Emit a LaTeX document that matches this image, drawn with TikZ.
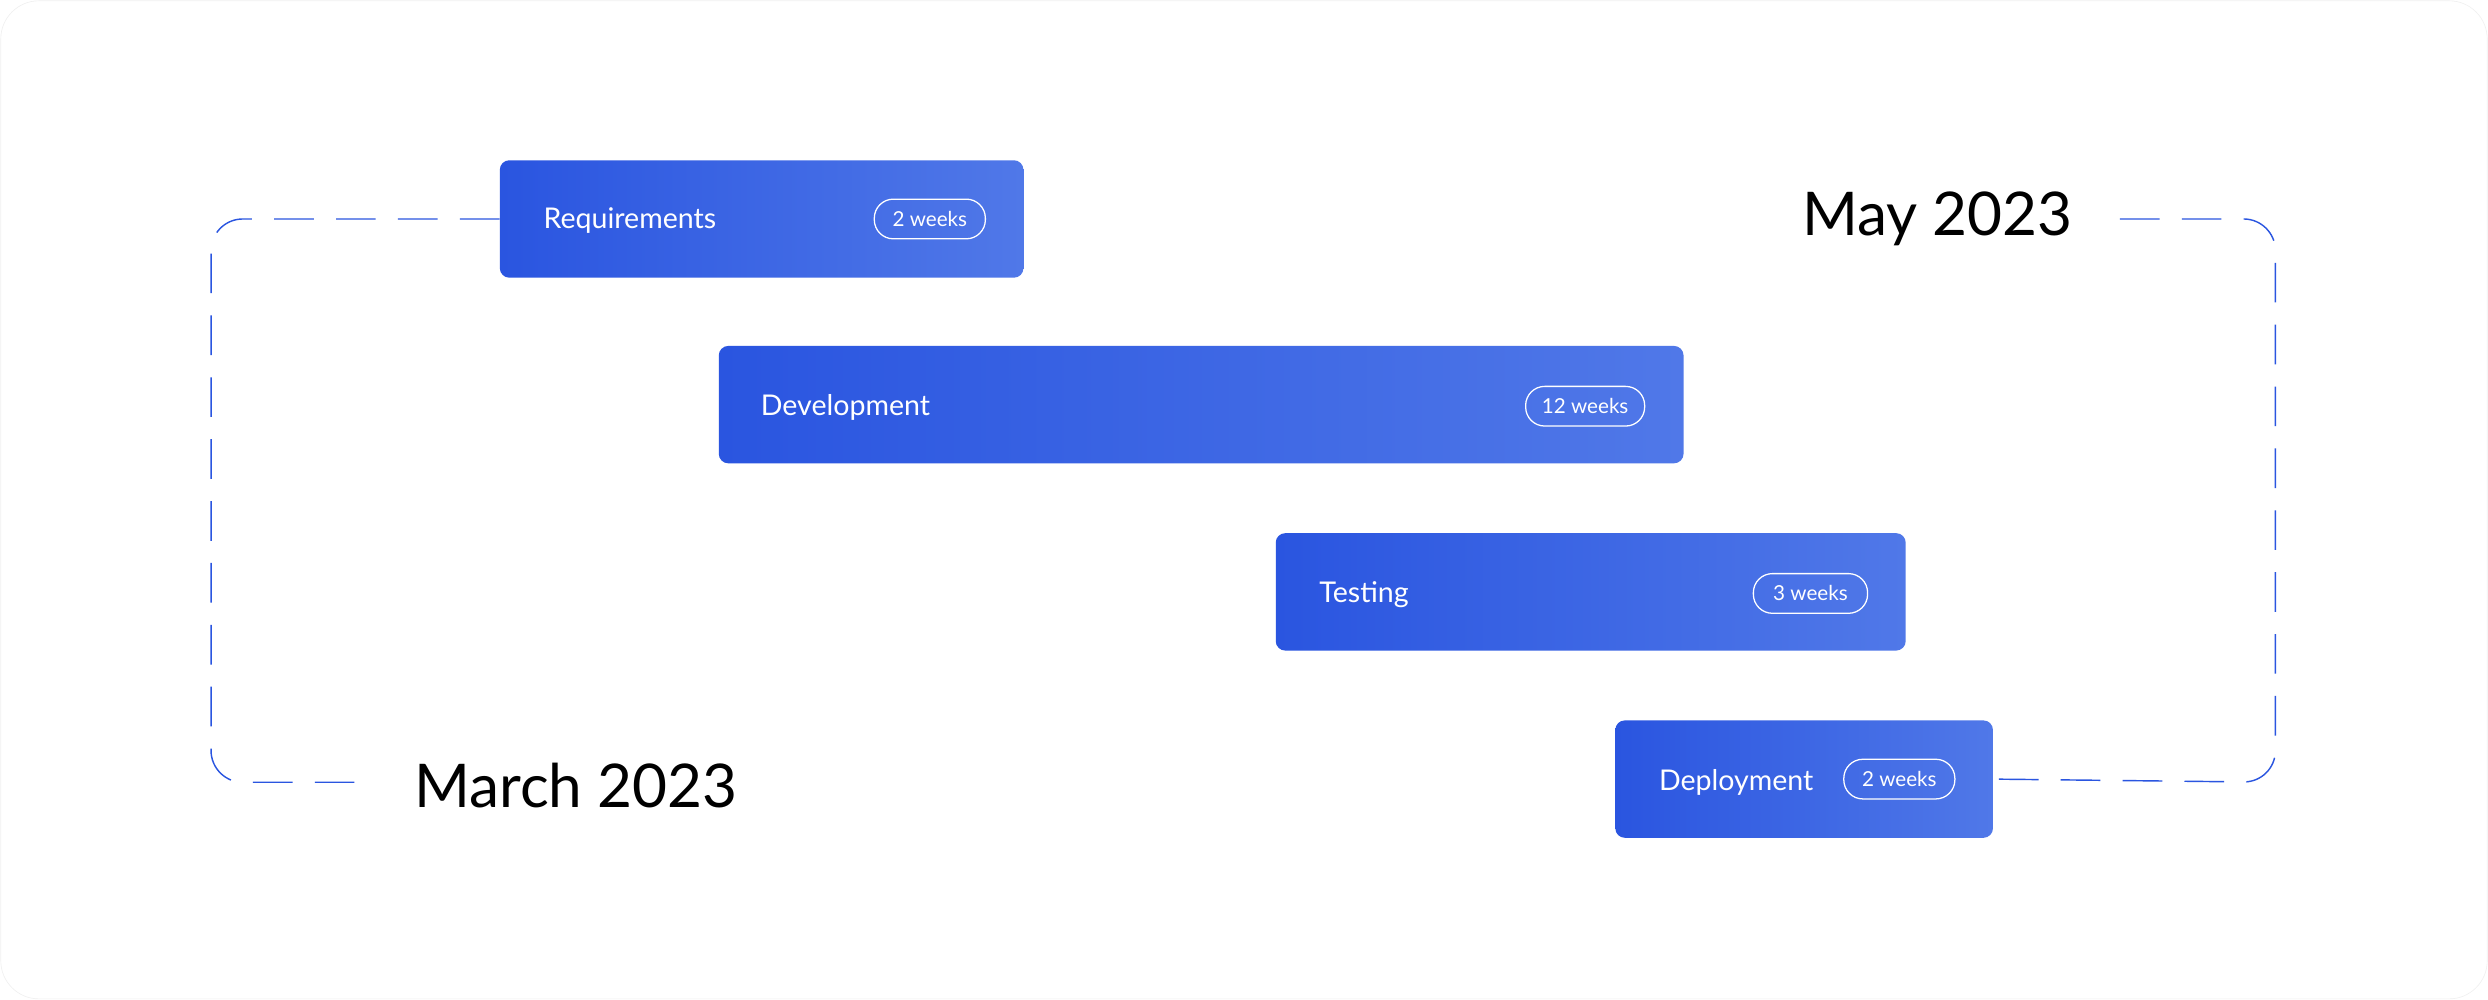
\documentclass[tikz,border=0pt]{standalone}
\usepackage{fontspec}
\setmainfont{Lato}
\begin{document}
\begin{tikzpicture}[x=1pt,y=-1pt,
  bar/.style={rounded corners=6pt,left color=blue1,right color=blue2,minimum height=74pt,inner sep=0pt},
  pill/.style={draw=white,line width=0.8pt,rounded corners=12pt,minimum height=25pt,inner sep=0pt,text=white,font=\fontsize{13}{15}\selectfont},
  lbl/.style={text=white,font=\fontsize{18}{20}\selectfont,anchor=west},
  month/.style={font=\fontsize{38}{42}\selectfont,text=black},
  dashline/.style={draw=blue1,line width=0.9pt,dash pattern=on 25pt off 14pt,rounded corners=20pt}]
\definecolor{blue1}{HTML}{2A55E0}
\definecolor{blue2}{HTML}{5078E8}
\useasboundingbox (0,0) rectangle (1568,630);
\draw[draw=black!6,fill=white,rounded corners=24pt] (0.5,0.5) rectangle (1567.5,629.5);
\node[bar,minimum width=330pt] (req) at (480,138) {};
\node[bar,minimum width=608pt] (dev) at (757,255) {};
\node[bar,minimum width=397pt] (tst) at (1002.5,373) {};
\node[bar,minimum width=238pt] (dep) at (1137,491) {};
\node[lbl] (reqt) at (339,139) {Requirements};
\node[lbl] (devt) at (476,257) {Development};
\node[lbl] (tstt) at (828,375) {Testing};
\node[lbl] (dept) at (1042,493) {Deployment};
\node[pill,minimum width=70pt] (p1) at (586,138) {2 weeks};
\node[pill,minimum width=75pt] (p2) at (999,256) {12 weeks};
\node[pill,minimum width=72pt] (p3) at (1141,374) {3 weeks};
\node[pill,minimum width=70pt] (p4) at (1197,491) {2 weeks};
\node[month] (may) at (1221,138) {May 2023};
\node[month] (mar) at (363,495) {March 2023};
\coordinate (ml) at (232,493);
\coordinate (mr) at (1336,138);
\draw[dashline] (req.west) -- (133,138) -- (133,493) -- (ml);
\draw[dashline] (mr) -- (1434,138) -- (1434,493) -- (dep.east);
\end{tikzpicture}
\end{document}
